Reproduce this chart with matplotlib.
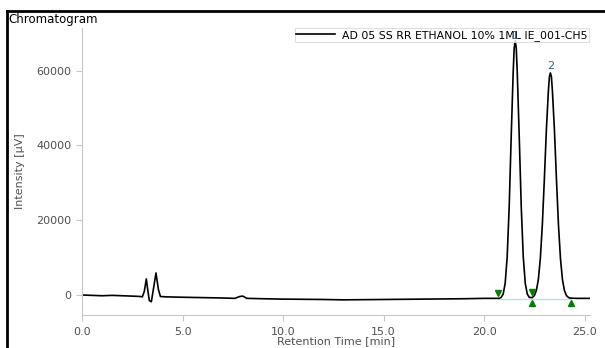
import matplotlib
matplotlib.use("Agg")
import matplotlib.pyplot as plt
from matplotlib.lines import Line2D

# trace: retention time [min], intensity [uV]
time_min = [0.0, 0.5, 1.0, 1.5, 2.0, 2.5, 2.9, 3.0, 3.1, 3.2, 3.28, 3.35, 3.45,
            3.55, 3.68, 3.8, 3.9, 4.2, 5.0, 6.0, 7.0, 7.6, 7.85, 8.0, 8.2, 9.0,
            10.0, 12.0, 13.0, 15.0, 17.0, 19.0, 20.0, 20.75,
            20.85, 20.95, 21.05, 21.15, 21.25, 21.35, 21.45, 21.5, 21.55, 21.6, 21.65,
            21.75, 21.85, 21.95, 22.05, 22.15, 22.25, 22.4, 22.5, 22.6, 22.7, 22.8,
            22.9, 23.0, 23.1, 23.2, 23.25, 23.3, 23.35, 23.4, 23.5, 23.6, 23.7, 23.8,
            23.9, 24.0, 24.1, 24.2, 24.3, 24.6, 25.3]
intensity = [0, -100, -200, -100, -200, -300, -400, -500, 1000, 4300, 1000, -1500, -1800,
             1500, 5900, 1500, -400, -500, -600, -700, -800, -900, -400, -300, -900, -1000,
             -1100, -1200, -1300, -1200, -1100, -1000, -900, -900,
             -640, 250, 3100, 10200, 23600, 42300, 59800, 66100, 68000, 66100, 59800,
             42300, 23600, 10200, 3100, 250, -640, -700, -160, 1160, 4100, 9800,
             18900, 31100, 44200, 54600, 58400, 59400, 58400, 54600, 44200, 31100, 18900, 9800,
             4100, 1160, -160, -670, -840, -900, -900]

series_name = "AD 05 SS RR ETHANOL 10% 1ML IE_001-CH5"
peak_names = ["1", "2"]
peak_times = [21.55, 23.3]
peak_label_y = [69300, 61300]

# integration marks
start_times = [20.7, 22.37]
start_levels = [500, 800]
end_times = [22.37, 24.3]
end_levels = [-2100, -2100]
base_times = [20.7, 24.3]
base_levels = [-1000, -1000]

x_ticks = [0, 5, 10, 15, 20, 25]
y_ticks = [0, 20000, 40000, 60000]

W, H = 605, 348
fig = plt.figure(figsize=(W / 100, H / 100), dpi=100)
ax = fig.add_axes([82 / W, (H - 315) / H, 508 / W, 287 / H])

grey = "#c8c8c8"
txt = "#505050"

ax.plot(base_times, base_levels, color="#c9d9e6", lw=1, zorder=1)
ax.plot(time_min, intensity, color="black", lw=1.2, label=series_name, zorder=2)
ax.plot(start_times, start_levels, linestyle="none", marker="v", ms=5,
        color="#008000", zorder=3)
ax.plot(end_times, end_levels, linestyle="none", marker="^", ms=5,
        color="#008000", zorder=3)

for name, t, y in zip(peak_names, peak_times, peak_label_y):
    ax.text(t, y, name, color="#3d5f8f", fontsize=8, ha="center", va="center", zorder=6)

ax.set_xlim(0, 25.27)
ax.set_ylim(-5350, 71420)
ax.set_xticks(x_ticks)
ax.set_xticklabels([f"{v:.1f}" for v in x_ticks])
ax.set_yticks(y_ticks)
ax.set_yticklabels([str(v) for v in y_ticks])

for s in ["top", "right"]:
    ax.spines[s].set_visible(False)
for s in ["left", "bottom"]:
    ax.spines[s].set_color(grey)
ax.tick_params(colors=grey, labelcolor=txt, labelsize=8, length=4)
ax.tick_params(axis="x", pad=4.5)

ax.set_xlabel("Retention Time [min]", fontsize=8, color=txt, labelpad=-0.5)
ax.set_ylabel("Intensity [µV]", fontsize=8, color=txt, labelpad=8)

leg = ax.legend(loc="upper right", bbox_to_anchor=(0.998, 1.0), fontsize=7.8,
                frameon=True, fancybox=False, handlelength=3.6, borderpad=0.15,
                handletextpad=0.6, borderaxespad=0)
leg.get_frame().set_edgecolor("#d8d8d8")
leg.get_frame().set_linewidth(0.8)
leg.set_zorder(5)

fig.text(8 / W, 1 - 20 / H, "Chromatogram", fontsize=8.5, ha="left", va="center")

# outer frame (top and left edges)
fig.add_artist(Line2D([7 / W, 1], [1 - 11 / H, 1 - 11 / H], color="black", lw=2,
                      transform=fig.transFigure))
fig.add_artist(Line2D([7 / W, 7 / W], [0, 1 - 11 / H], color="black", lw=2,
                      transform=fig.transFigure))

fig.savefig("out.png", dpi=100)
